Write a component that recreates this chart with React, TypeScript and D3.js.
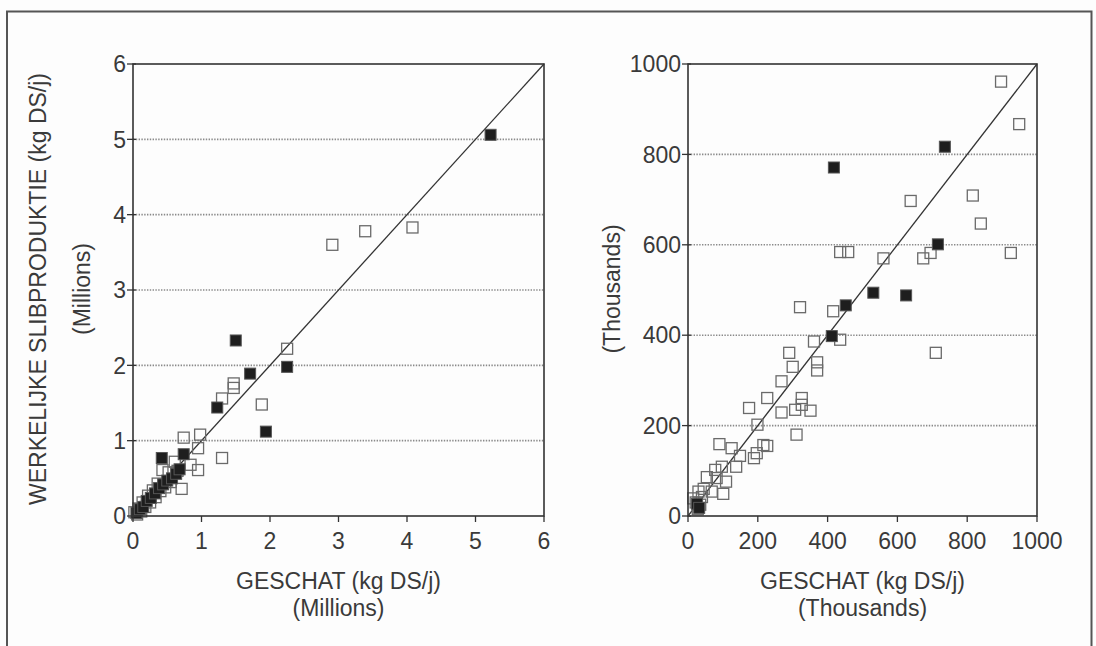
import React from "react";
import * as d3 from "d3";

// Left panel: values in millions kg DS/j (estimated vs. actual)
const leftOpen: [number, number][] = [
  [0.02, 0.05], [0.06, 0.02], [0.08, 0.1], [0.12, 0.06], [0.14, 0.18], [0.18, 0.12],
  [0.22, 0.27], [0.25, 0.18], [0.29, 0.34], [0.33, 0.25], [0.36, 0.43], [0.4, 0.33],
  [0.43, 0.61], [0.47, 0.38], [0.52, 0.58], [0.55, 0.45], [0.61, 0.72], [0.65, 0.6],
  [0.71, 0.36], [0.74, 1.04], [0.84, 0.68], [0.95, 0.61], [0.95, 0.9], [0.98, 1.08],
  [1.3, 0.77], [1.3, 1.56], [1.47, 1.7], [1.47, 1.76], [1.88, 1.48], [2.25, 2.22],
  [2.91, 3.6], [3.39, 3.78], [4.08, 3.83],
];
const leftFilled: [number, number][] = [
  [0.05, 0.04], [0.1, 0.09], [0.15, 0.12], [0.2, 0.2], [0.26, 0.24], [0.32, 0.3],
  [0.38, 0.37], [0.44, 0.42], [0.5, 0.47], [0.57, 0.5], [0.63, 0.56], [0.68, 0.62],
  [0.42, 0.77], [0.74, 0.82], [1.23, 1.44], [1.5, 2.33], [1.71, 1.89], [2.25, 1.98],
  [1.94, 1.12], [5.22, 5.06],
];

// Right panel: values in thousands kg DS/j
const rightOpen: [number, number][] = [
  [897, 961], [949, 867], [638, 697], [816, 709], [839, 647], [695, 582], [674, 570],
  [560, 570], [925, 582], [710, 361], [436, 584], [459, 584], [321, 462], [416, 453],
  [361, 386], [436, 390], [290, 361], [300, 330], [370, 340], [370, 322], [268, 298],
  [227, 261], [175, 239], [268, 229], [307, 235], [326, 261], [326, 246], [351, 233],
  [199, 202], [311, 180], [90, 159], [125, 150], [149, 133], [216, 157], [227, 155],
  [197, 139], [189, 128], [138, 109], [97, 109], [78, 102], [54, 86], [82, 84],
  [109, 76], [68, 54], [101, 49], [30, 54], [15, 39], [22, 30], [35, 25], [40, 42],
  [28, 15], [45, 60],
];
const rightFilled: [number, number][] = [
  [736, 817], [716, 601], [531, 494], [625, 488], [452, 466], [412, 398], [418, 771],
  [26, 27], [32, 18],
];

const leftTicks = [0, 1, 2, 3, 4, 5, 6];
const rightTicks = [0, 200, 400, 600, 800, 1000];

const xTitle = "GESCHAT (kg DS/j)";
const yTitle = "WERKELIJKE SLIBPRODUKTIE (kg DS/j)";

const FONT = "'Liberation Sans', Arial, Helvetica, sans-serif";
const INK = "#3a3a3a";
const FS = 23;

type PanelProps = {
  x0: number;
  x1: number;
  yTop: number;
  yBot: number;
  max: number;
  ticks: number[];
  open: [number, number][];
  filled: [number, number][];
  unit: string;
};

function Panel({ x0, x1, yTop, yBot, max, ticks, open, filled, unit }: PanelProps) {
  const x = d3.scaleLinear().domain([0, max]).range([x0, x1]);
  const y = d3.scaleLinear().domain([0, max]).range([yBot, yTop]);
  const diag = d3.line<number>().x((v) => x(v)).y((v) => y(v))([0, max]) || "";
  const S = 11;
  const cx = (x0 + x1) / 2;
  return (
    <g>
      {/* dotted reference lines */}
      {ticks
        .filter((t) => t > 0 && t < max)
        .map((t) => (
          <line
            key={"g" + t}
            x1={x0}
            x2={x1}
            y1={y(t)}
            y2={y(t)}
            stroke="#8a8a8a"
            strokeWidth={1.6}
            strokeDasharray="1.4,1.4"
          />
        ))}
      {/* 1:1 line */}
      <path d={diag} stroke="#333" strokeWidth={1.3} fill="none" />
      {open.map((d, i) => (
        <rect
          key={"o" + i}
          x={x(d[0]) - S / 2}
          y={y(d[1]) - S / 2}
          width={S}
          height={S}
          fill="none"
          stroke="#6a6a6a"
          strokeWidth={1.3}
        />
      ))}
      {filled.map((d, i) => (
        <rect
          key={"f" + i}
          x={x(d[0]) - S / 2}
          y={y(d[1]) - S / 2}
          width={S}
          height={S}
          fill="#1e1e1e"
          stroke="#555"
          strokeWidth={1}
        />
      ))}
      {/* plot frame */}
      <rect x={x0} y={yTop} width={x1 - x0} height={yBot - yTop} fill="none" stroke="#333" strokeWidth={1.6} />
      {ticks.map((t) => (
        <g key={"t" + t}>
          <line x1={x0 - 6} x2={x0 + 3} y1={y(t)} y2={y(t)} stroke="#333" strokeWidth={1.3} />
          <text
            x={x0 - 7}
            y={y(t)}
            dy="0.36em"
            textAnchor="end"
            fontSize={FS}
            fontFamily={FONT}
            fill={INK}
          >
            {t}
          </text>
          <line x1={x(t)} x2={x(t)} y1={yBot} y2={yBot + 6} stroke="#333" strokeWidth={1.3} />
          <text x={x(t)} y={yBot + 33} textAnchor="middle" fontSize={FS} fontFamily={FONT} fill={INK}>
            {t}
          </text>
        </g>
      ))}
      <text x={cx} y={589} textAnchor="middle" fontSize={FS} fontFamily={FONT} fill={INK}>
        {xTitle}
      </text>
      <text x={cx} y={616} textAnchor="middle" fontSize={FS} fontFamily={FONT} fill={INK}>
        {unit}
      </text>
    </g>
  );
}

export default function App() {
  return (
    <svg
      width={1096}
      height={646}
      style={{ position: "absolute", left: 0, top: 0, background: "#fff" }}
    >
      <rect x={0} y={0} width={1096} height={646} fill="#fdfdfd" />
      {/* outer frame, open at the bottom */}
      <path d="M7,660 V11.5 H1091.5 V660" fill="none" stroke="#555" strokeWidth={2} />
      <Panel
        x0={133}
        x1={544}
        yTop={64}
        yBot={516}
        max={6}
        ticks={leftTicks}
        open={leftOpen}
        filled={leftFilled}
        unit="(Millions)"
      />
      <Panel
        x0={688}
        x1={1037}
        yTop={64}
        yBot={516}
        max={1000}
        ticks={rightTicks}
        open={rightOpen}
        filled={rightFilled}
        unit="(Thousands)"
      />
      <text
        transform="translate(46,289) rotate(-90)"
        textAnchor="middle"
        fontSize={FS}
        fontFamily={FONT}
        fill={INK}
      >
        {yTitle}
      </text>
      <text
        transform="translate(90,289) rotate(-90)"
        textAnchor="middle"
        fontSize={FS}
        fontFamily={FONT}
        fill={INK}
      >
        (Millions)
      </text>
      <text
        transform="translate(620,289) rotate(-90)"
        textAnchor="middle"
        fontSize={FS}
        fontFamily={FONT}
        fill={INK}
      >
        (Thousands)
      </text>
    </svg>
  );
}
